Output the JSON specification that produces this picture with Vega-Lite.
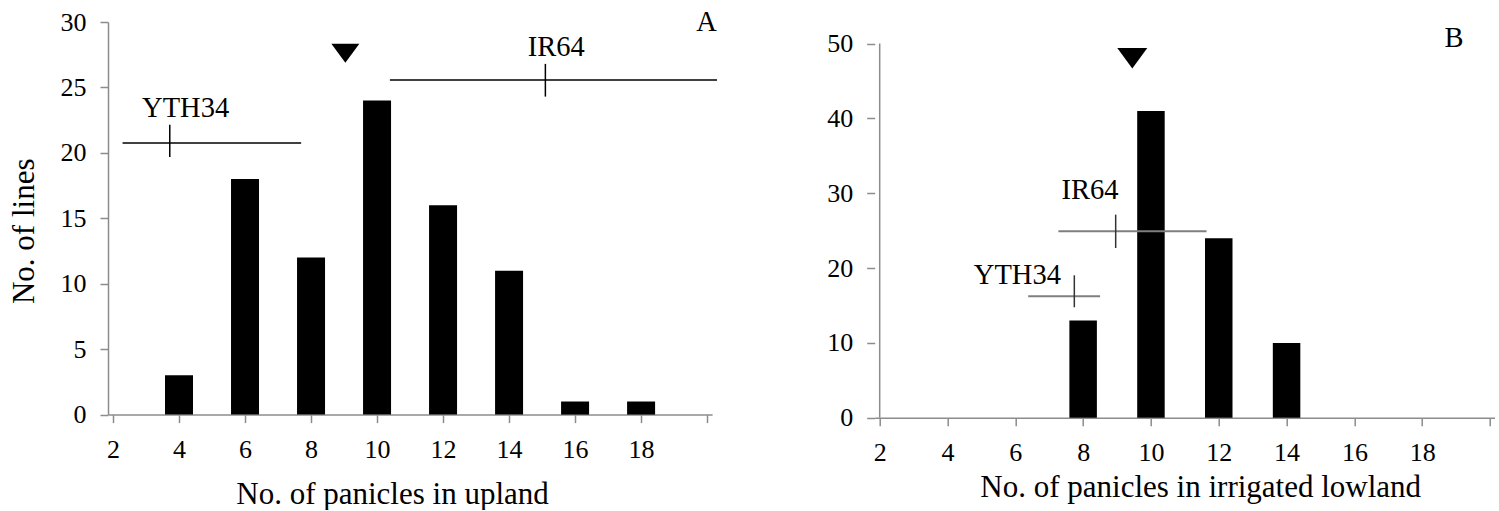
{
  "$schema": "https://vega.github.io/schema/vega-lite/v6.json",
  "background": "white",
  "padding": {"left": 8, "top": 8, "right": 0, "bottom": 0},
  "bounds": "flush",
  "spacing": 161.7,
  "config": {
    "font": "Liberation Serif",
    "view": {"stroke": null},
    "style": {"guide-label": {"font": "Liberation Serif"}, "guide-title": {"font": "Liberation Serif"}},
    "axis": {
      "labelFont": "Liberation Serif",
      "titleFont": "Liberation Serif",
      "labelFontSize": 26,
      "titleFontSize": 31,
      "titleFontWeight": "normal",
      "labelColor": "#000000",
      "titleColor": "#000000",
      "domainColor": "#8c8c8c",
      "tickColor": "#8c8c8c",
      "domainWidth": 1.5,
      "tickWidth": 1.5,
      "tickSize": 8,
      "grid": false,
      "labelPadding": 14,
      "labelOverlap": false,
      "labelFlush": false
    }
  },
  "datasets": {
    "barsA": [
      {"x": 4, "y": 3}, {"x": 6, "y": 18}, {"x": 8, "y": 12}, {"x": 10, "y": 24},
      {"x": 12, "y": 16}, {"x": 14, "y": 11}, {"x": 16, "y": 1}, {"x": 18, "y": 1}
    ],
    "hlinesA": [
      {"cultivar": "YTH34", "x": 2.29, "x2": 7.70, "y": 20.75},
      {"cultivar": "IR64", "x": 10.39, "x2": 20.3, "y": 25.56}
    ],
    "vticksA": [
      {"cultivar": "YTH34", "x": 3.72, "y": 22.15, "y2": 19.68},
      {"cultivar": "IR64", "x": 15.1, "y": 26.8, "y2": 24.3}
    ],
    "labelsA": [
      {"x": 4.2, "y": 22.71, "text": "YTH34"},
      {"x": 15.43, "y": 27.37, "text": "IR64"},
      {"x": 19.98, "y": 29.28, "text": "A"}
    ],
    "triA": [{"x": 9.04, "y": 27.61}],
    "barsB": [
      {"x": 8, "y": 13}, {"x": 10, "y": 41}, {"x": 12, "y": 24}, {"x": 14, "y": 10}
    ],
    "hlinesB": [
      {"cultivar": "YTH34", "x": 6.38, "x2": 8.5, "y": 16.23},
      {"cultivar": "IR64", "x": 7.27, "x2": 11.64, "y": 24.92}
    ],
    "vticksB": [
      {"cultivar": "YTH34", "x": 7.74, "y": 19.04, "y2": 14.77},
      {"cultivar": "IR64", "x": 8.96, "y": 27.15, "y2": 22.69}
    ],
    "labelsB": [
      {"x": 6.06, "y": 17.93, "text": "YTH34"},
      {"x": 8.2, "y": 29.24, "text": "IR64"},
      {"x": 18.94, "y": 49.51, "text": "B"}
    ],
    "triB": [{"x": 9.45, "y": 48.04}],
    "axisB": [{"x": 2, "y": 0, "y2": 50}]
  },
  "hconcat": [
    {
      "width": 604.1,
      "height": 392.6,
      "encoding": {
        "x": {
          "field": "x", "type": "quantitative",
          "scale": {"domain": [2, 20], "nice": false, "zero": false},
          "axis": {
            "title": "No. of panicles in upland",
            "values": [2, 4, 6, 8, 10, 12, 14, 16, 18, 20],
            "labelExpr": "datum.value >= 20 ? '' : datum.label",
            "labelFont": "Liberation Serif", "labelFontSize": 26,
            "titleX": 284, "titleY": 89, "titleBaseline": "alphabetic", "titleAlign": "center"
          }
        },
        "y": {
          "field": "y", "type": "quantitative",
          "scale": {"domain": [0, 30], "nice": false},
          "axis": {
            "title": "No. of lines",
            "values": [0, 5, 10, 15, 20, 25, 30],
            "labelFont": "Liberation Serif", "labelFontSize": 26,
            "titleX": -75, "titleY": 208.8, "titleBaseline": "alphabetic", "titleAlign": "center", "titleAngle": 270
          }
        }
      },
      "layer": [
        {"data": {"name": "barsA"}, "mark": {"type": "bar", "size": 28, "color": "#000000"}},
        {"data": {"name": "hlinesA"}, "mark": {"type": "rule", "color": "#000000", "strokeWidth": 1.5},
         "encoding": {"x2": {"field": "x2"}}},
        {"data": {"name": "vticksA"}, "mark": {"type": "rule", "color": "#000000", "strokeWidth": 1.5},
         "encoding": {"y2": {"field": "y2"}}},
        {"data": {"name": "labelsA"}, "mark": {"type": "text", "font": "Liberation Serif", "fontSize": 28.5, "color": "#000000", "align": "center", "baseline": "alphabetic"},
         "encoding": {"text": {"field": "text"}}},
        {"data": {"name": "triA"}, "mark": {"type": "point", "shape": "M-1,-0.68L1,-0.68L0,0.68Z", "size": 784, "filled": true, "color": "#000000", "opacity": 1, "strokeWidth": 0}}
      ]
    },
    {
      "width": 620.3,
      "height": 395.8,
      "encoding": {
        "x": {
          "field": "x", "type": "quantitative",
          "scale": {"domain": [2, 20], "nice": false, "zero": false},
          "axis": {
            "title": "No. of panicles in irrigated lowland",
            "values": [2, 4, 6, 8, 10, 12, 14, 16, 18, 20],
            "labelExpr": "datum.value >= 20 ? '' : datum.label",
            "labelFont": "Liberation Serif", "labelFontSize": 26,
            "titleX": 325.5, "titleY": 78.5, "titleBaseline": "alphabetic", "titleAlign": "center"
          }
        },
        "y": {
          "field": "y", "type": "quantitative",
          "scale": {"domain": [0, 52.886], "nice": false},
          "axis": {
            "title": null,
            "domain": false,
            "labelFont": "Liberation Serif", "labelFontSize": 26,
            "values": [0, 10, 20, 30, 40, 50]
          }
        }
      },
      "layer": [
        {"data": {"name": "axisB"}, "mark": {"type": "rule", "color": "#8c8c8c", "strokeWidth": 1.5},
         "encoding": {"y2": {"field": "y2"}}},
        {"data": {"name": "barsB"}, "mark": {"type": "bar", "size": 27.5, "color": "#000000"}},
        {"data": {"name": "hlinesB"}, "mark": {"type": "rule", "color": "#7f7f7f", "strokeWidth": 2},
         "encoding": {"x2": {"field": "x2"}}},
        {"data": {"name": "vticksB"}, "mark": {"type": "rule", "color": "#333333", "strokeWidth": 1.5},
         "encoding": {"y2": {"field": "y2"}}},
        {"data": {"name": "labelsB"}, "mark": {"type": "text", "font": "Liberation Serif", "fontSize": 28.5, "color": "#000000", "align": "center", "baseline": "alphabetic"},
         "encoding": {"text": {"field": "text"}}},
        {"data": {"name": "triB"}, "mark": {"type": "point", "shape": "M-1,-0.68L1,-0.68L0,0.68Z", "size": 900, "filled": true, "color": "#000000", "opacity": 1, "strokeWidth": 0}}
      ]
    }
  ]
}
